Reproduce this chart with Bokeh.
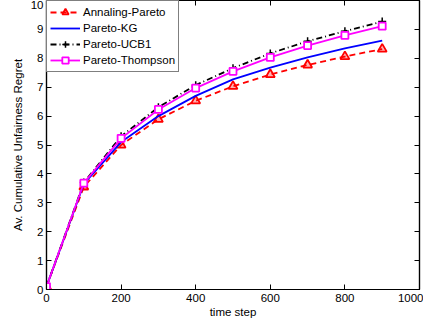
from bokeh.plotting import figure
from bokeh.models import LinearAxis, Legend, LegendItem, Range1d, FixedTicker
from bokeh.embed import file_html
from bokeh.resources import INLINE

steps = [0, 100, 200, 300, 400, 500, 600, 700, 800, 900]
annaling_pareto = [0.1, 3.55, 5.0, 5.89, 6.53, 7.03, 7.44, 7.77, 8.06, 8.32]
pareto_kg = [0.1, 3.65, 5.1, 6.0, 6.7, 7.27, 7.68, 8.03, 8.34, 8.61]
pareto_ucb1 = [0.1, 3.7, 5.3, 6.31, 7.07, 7.66, 8.17, 8.59, 8.94, 9.27]
pareto_thompson = [0.1, 3.68, 5.23, 6.23, 6.97, 7.55, 8.03, 8.44, 8.79, 9.11]
x_ticks = [0, 200, 400, 600, 800, 1000]
y_ticks = [0, 1, 2, 3, 4, 5, 6, 7, 8, 9, 10]

FONT = "Liberation Sans"
FS = "11.5px"

p = figure(frame_width=373, frame_height=289, output_backend="svg", toolbar_location=None,
           x_range=Range1d(0, 1000), y_range=Range1d(0, 10),
           min_border_left=46, min_border_top=0, min_border_right=4, min_border_bottom=0,
           background_fill_color="white", border_fill_color="white")
p.grid.visible = False
p.outline_line_color = "black"
p.outline_line_width = 1.2

for ax in p.xaxis:
    ax.ticker = FixedTicker(ticks=x_ticks)
for ax in p.yaxis:
    ax.ticker = FixedTicker(ticks=y_ticks)

for ax in list(p.xaxis) + list(p.yaxis):
    ax.major_tick_in = 5
    ax.major_tick_out = 0
    ax.minor_tick_line_color = None
    ax.axis_line_color = "black"
    ax.axis_line_width = 1.2
    ax.major_label_text_font = FONT
    ax.major_label_text_font_size = FS
    ax.major_label_text_color = "black"
    ax.axis_label_text_font = FONT
    ax.axis_label_text_font_size = FS
    ax.axis_label_text_font_style = "normal"
    ax.axis_label_text_color = "black"

p.xaxis.axis_label = "time step"
p.xaxis.major_label_standoff = 4
p.xaxis.axis_label_standoff = 1
p.yaxis.axis_label = "Av. Cumulative Unfairness Regret"
p.yaxis.major_label_standoff = 3
p.yaxis.axis_label_standoff = 4

top = LinearAxis(ticker=FixedTicker(ticks=x_ticks),
                 major_label_overrides={t: "" for t in x_ticks},
                 major_label_standoff=0, major_tick_in=5, major_tick_out=0,
                 minor_tick_line_color=None, axis_line_color="black")
right = LinearAxis(ticker=FixedTicker(ticks=y_ticks),
                   major_label_overrides={t: "" for t in y_ticks},
                   major_label_standoff=0, major_tick_in=5, major_tick_out=0,
                   minor_tick_line_color=None, axis_line_color="black", axis_line_width=1.2)
p.add_layout(top, "above")
p.add_layout(right, "right")

lw = 1.8
r1 = p.line(steps, annaling_pareto, line_color="red", line_width=lw, line_dash="6 4")
m1 = p.scatter(steps, annaling_pareto, marker="triangle", size=9, line_color="red",
               fill_color="red", fill_alpha=0.3, line_width=1.8)
r2 = p.line(steps, pareto_kg, line_color="blue", line_width=lw)
r3 = p.line(steps, pareto_ucb1, line_color="black", line_width=lw, line_dash="6 3 1 3")
m3 = p.scatter(steps, pareto_ucb1, marker="cross", size=8, line_color="black", line_width=1.5)
r4 = p.line(steps, pareto_thompson, line_color="magenta", line_width=lw)
m4 = p.scatter(steps, pareto_thompson, marker="square", size=7, line_color="magenta",
               fill_color="white", line_width=1.8)

legend = Legend(items=[
    LegendItem(label="Annaling-Pareto", renderers=[r1, m1]),
    LegendItem(label="Pareto-KG", renderers=[r2]),
    LegendItem(label="Pareto-UCB1", renderers=[r3, m3]),
    LegendItem(label="Pareto-Thompson", renderers=[r4, m4]),
], location="top_left")
legend.margin = 0
legend.padding = 3
legend.spacing = 0
legend.glyph_width = 30
legend.glyph_height = 16
legend.label_height = 16
legend.label_standoff = 3
legend.label_text_font = FONT
legend.label_text_font_size = FS
legend.label_text_color = "black"
legend.border_line_color = "black"
legend.border_line_width = 1.2
legend.background_fill_color = "white"
legend.background_fill_alpha = 1
p.add_layout(legend, "center")

open("out.html", "w").write(file_html(p, INLINE))
